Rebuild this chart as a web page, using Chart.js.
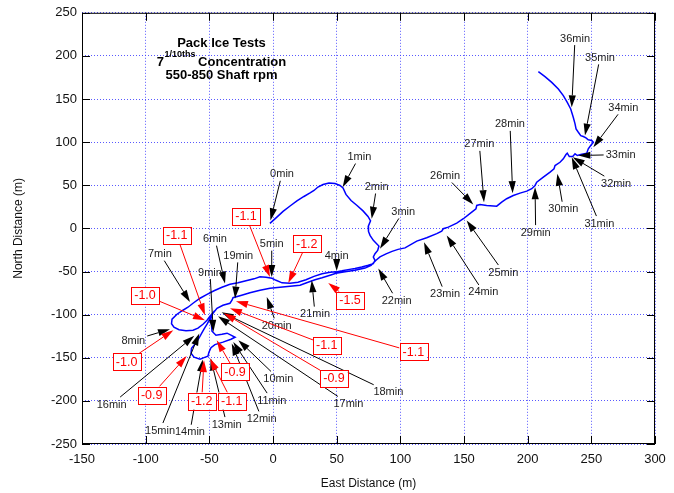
<!DOCTYPE html>
<html><head><meta charset="utf-8">
<style>html,body{margin:0;padding:0;background:#fff;}#wrap{width:674px;height:493px;}</style>
<script src="https://cdn.jsdelivr.net/npm/chart.js@4.4.0/dist/chart.umd.min.js"></script>
</head><body><div id="wrap"><canvas id="c" width="674" height="493"></canvas></div>
<script>
// ---- data (metres) ----
const trackEast = [-2.4,2.4,7.9,13.4,18.8,24.3,29.1,32.2,35.3,39.3,44.0,48.7,52.6,55.0,
57.3,61.3,66.0,70.7,74.6,76.6,74.8,75.0,76.2,78.8,81.4,83.2,82.2,80.1,78.8,80.1,78.8,74.8,69.7,64.4,
58.9,54.2,49.5,44.8,38.5,32.2,25.9,19.6,13.4,7.1,2.4,-0.8,-5.5,-10.2,-14.9,-21.2,-27.5,-33.8,-40.1,-46.3,-51.8,-57.3,-62.8,-66.8,-70.7,
-75.4,-79.3,-79.7,-77.8,-73.8,-68.3,-62.8,-58.9,-55.0,-51.8,-49.5,-47.5,
-48.7,-48.3,-47.9,
-44.8,-40.1,-36.1,-33.0,-29.8,-33.0,-39.3,-45.6,-48.7,-50.3,-51.1,-54.2,-57.3,-62.0,-64.4,-64.0,-62.0,-59.7,-57.7,-56.2,-54.2,-51.8,-49.5,-47.1,-44.0,-39.3,-33.8,-32.2,-31.4,
-24.6,-18.1,-10.2,-2.4,5.5,13.4,21.2,27.5,33.0,38.5,44.8,49.5,56.6,64.4,72.3,77.0,80.9,84.0,88.8,93.5,98.2,103.7,
112.9,120.7,128.6,132.5,133.7,137.7,144.3,149.5,156.1,159.4,160.0,162.6,167.8,175.7,179.6,183.5,188.7,194.0,199.3,203.2,205.8,207.1,212.3,217.6,220.7,221.5,225.4,228.0,230.1,231.1,232.7,235.4,237.2,239.0,241.7,246.4,247.6,249.5,251.6,250.3,247.6,245.8,243.7,241.7,239.8,238.0,237.2,235.8,233.8,231.1,228.0,224.1,218.9,213.6,208.4];
const trackNorth = [5.8,12.2,19.7,26.0,31.8,37.0,41.1,44.0,48.0,50.9,52.7,52.1,49.8,46.9,
39.4,32.4,26.6,20.3,13.9,8.7,2.3,-3.5,-8.1,-13.9,-17.7,-20.5,-25.5,-29.3,-33.2,-37.0,-40.9,-42.8,-44.8,-46.6,
-47.8,-49.2,-50.4,-50.9,-52.7,-55.6,-59.6,-62.5,-63.7,-63.1,-60.2,-57.9,-56.7,-56.1,-58.5,-60.8,-63.1,-64.8,-68.3,-72.3,-76.4,-81.0,-86.8,-91.4,-94.9,
-99.5,-105.3,-110.5,-114.6,-117.5,-118.6,-118.1,-115.7,-111.1,-106.5,-101.9,-98.4,
-104.2,-112.3,-119.2,
-123.8,-122.7,-121.5,-123.8,-126.2,-128.5,-131.9,-134.8,-138.3,-143.5,-148.1,-149.9,-151.6,-149.3,-144.7,-138.9,-135.4,-130.8,-126.2,-122.1,-116.9,-111.1,-104.8,-98.4,-92.6,-89.1,-86.8,-83.3,-80.4,
-77.6,-74.7,-71.8,-69.4,-68.3,-67.1,-66.0,-62.5,-59.6,-57.3,-54.4,-52.1,-50.4,-48.6,-46.0,-42.8,-37.0,-33.0,-29.5,-26.6,-24.3,-22.6,
-14.7,-10.8,-6.1,-3.1,-0.4,1.5,6.1,11.2,18.9,22.8,26.6,27.8,26.6,25.8,30.4,34.4,38.2,40.9,43.2,46.0,49.8,53.6,59.4,65.2,69.1,72.9,76.7,80.7,85.7,87.2,83.3,83.3,86.5,84.5,85.7,87.2,92.3,96.1,99.9,101.9,102.7,105.0,106.5,107.6,111.5,115.4,121.2,128.8,138.5,146.2,153.9,161.7,169.3,175.9,181.7];

const xTickValues = [-150,-100,-50,0,50,100,150,200,250,300];
const yTickValues = [-250,-200,-150,-100,-50,0,50,100,150,200,250];

// time marks: label text, label position, arrow tip (east, north)
const minuteText = ['0min','1min','2min','3min','4min','5min','6min','7min','8min','9min','10min','11min','12min','13min','14min','15min','16min','17min','18min','19min','20min','21min','22min','23min','24min','25min','26min','27min','28min','29min','30min','31min','32min','33min','34min','35min','36min'];
const minuteLabelEast  = [7.1,67.8,81.4,102.3,50.0,-1.0,-45.6,-88.8,-109.7,-49.5,4.2,-1.0,-8.9,-36.4,-65.2,-88.7,-126.7,59.2,90.6,-27.3,2.9,33.0,97.1,135.1,165.2,180.9,135.1,162.0,186.1,206.3,228.0,256.3,269.4,273.0,275.1,256.8,237.2];
const minuteLabelNorth = [63.3,83.3,48.6,19.7,-31.3,-17.7,-11.9,-29.3,-129.6,-50.6,-174.0,-199.1,-220.3,-226.9,-235.8,-233.8,-203.7,-203.0,-189.4,-31.3,-112.3,-98.8,-83.3,-75.6,-73.7,-50.6,61.3,98.0,121.2,-4.3,22.8,6.2,52.5,85.6,140.4,198.3,220.7];
const minuteTipEast  = [-2.0,54.7,77.5,84.0,50.0,-1.0,-37.7,-65.2,-80.9,-46.9,-27.2,-31.2,-32.4,-48.9,-55.2,-57.9,-61.8,-43.2,-40.3,-29.8,-4.9,30.4,82.7,118.6,136.4,152.1,157.3,165.7,188.2,205.8,223.3,234.6,235.4,239.8,251.6,245.0,234.6];
const minuteTipNorth = [9.3,47.8,11.2,-23.5,-49.4,-56.4,-64.0,-85.3,-116.9,-120.0,-129.6,-131.6,-133.4,-150.8,-152.0,-121.9,-124.6,-101.9,-97.2,-81.4,-79.5,-60.2,-46.6,-16.2,-8.1,9.3,27.8,30.4,40.9,47.8,63.3,82.5,82.5,84.5,94.1,107.6,140.4];

// boxed red values: text, box position, arrow tip (east, north)
const headText = ['-1.1','-1.2','-1.5','-1.1','-1.0','-1.0','-0.9','-1.2','-1.1','-0.9','-1.1','-0.9','-1.1'];
const headBoxEast  = [-21.2,26.5,60.5,-75.6,-100.5,-115.0,-95.3,-56.0,-32.4,-29.8,42.2,47.9,110.2];
const headBoxNorth = [13.9,-17.7,-83.3,-8.1,-77.5,-154.7,-193.3,-200.2,-200.2,-166.3,-135.4,-174.0,-143.2];
const headTipEast  = [-2.4,12.0,43.4,-53.4,-53.4,-78.3,-67.8,-54.2,-49.5,-44.2,-33.8,-38.5,-29.1];
const headTipNorth = [-56.4,-63.3,-63.3,-100.7,-106.5,-118.1,-148.1,-152.8,-150.8,-129.6,-92.6,-98.4,-84.5];

const titleLine1 = 'Pack Ice Tests';
const titleLine2a = '7', titleLine2sup = '1/10ths', titleLine2b = 'Concentration';
const titleLine3 = '550-850 Shaft rpm';

const FONT = '"Liberation Sans", Arial, Helvetica, sans-serif';

function arrow(ctx, x0, y0, x1, y1, color) {
  const dx = x1 - x0, dy = y1 - y0, L = Math.hypot(dx, dy);
  if (L < 1) return;
  const ux = dx / L, uy = dy / L, hl = 12, hw = 3.6;
  const bx = x1 - ux * hl, by = y1 - uy * hl;
  ctx.strokeStyle = color; ctx.lineWidth = 1;
  ctx.beginPath(); ctx.moveTo(x0, y0); ctx.lineTo(bx, by); ctx.stroke();
  ctx.fillStyle = color;
  ctx.beginPath(); ctx.moveTo(x1, y1);
  ctx.lineTo(bx - uy * hw, by + ux * hw);
  ctx.lineTo(bx + uy * hw, by - ux * hw);
  ctx.closePath(); ctx.fill();
}
function edgePoint(cx, cy, hw, hh, tx, ty) {
  const dx = tx - cx, dy = ty - cy;
  const t = Math.min(dx ? hw / Math.abs(dx) : Infinity, dy ? hh / Math.abs(dy) : Infinity);
  return [cx + dx * t, cy + dy * t];
}

const annotPlugin = {
  id: 'annot',
  afterDatasetsDraw(chart) {
    const {ctx, chartArea: a, scales: {x, y}} = chart;
    ctx.save();
    // frame and inward ticks
    ctx.strokeStyle = '#000'; ctx.lineWidth = 1;
    ctx.strokeRect(a.left + 0.5, a.top + 0.5, a.right - a.left - 1, a.bottom - a.top - 1);
    ctx.beginPath();
    xTickValues.forEach(v => {
      const px = Math.round(x.getPixelForValue(v)) + 0.5;
      ctx.moveTo(px, a.top); ctx.lineTo(px, a.top + 8);
      ctx.moveTo(px, a.bottom); ctx.lineTo(px, a.bottom - 8);
    });
    yTickValues.forEach(v => {
      const py = Math.round(y.getPixelForValue(v)) + 0.5;
      ctx.moveTo(a.left, py); ctx.lineTo(a.left + 8, py);
      ctx.moveTo(a.right, py); ctx.lineTo(a.right - 8, py);
    });
    ctx.stroke();

    // minute labels with black arrows
    ctx.font = '11px ' + FONT;
    ctx.textAlign = 'center'; ctx.textBaseline = 'middle';
    minuteText.forEach((t, i) => {
      const cx = x.getPixelForValue(minuteLabelEast[i]), cy = y.getPixelForValue(minuteLabelNorth[i]);
      const tx = x.getPixelForValue(minuteTipEast[i]), ty = y.getPixelForValue(minuteTipNorth[i]);
      const w = ctx.measureText(t).width;
      const [sx, sy] = edgePoint(cx, cy, w / 2 + 2, 7, tx, ty);
      arrow(ctx, sx, sy, tx, ty, '#000');
      ctx.fillStyle = '#222';
      ctx.fillText(t, cx, cy + 0.5);
    });

    // red boxed values
    ctx.font = '12.5px ' + FONT;
    headText.forEach((t, i) => {
      const cx = x.getPixelForValue(headBoxEast[i]), cy = y.getPixelForValue(headBoxNorth[i]);
      const tx = x.getPixelForValue(headTipEast[i]), ty = y.getPixelForValue(headTipNorth[i]);
      const w = ctx.measureText(t).width + 6, h = 17;
      const [sx, sy] = edgePoint(cx, cy, w / 2, h / 2, tx, ty);
      arrow(ctx, sx, sy, tx, ty, '#ff0000');
      ctx.fillStyle = '#fff';
      ctx.fillRect(cx - w / 2, cy - h / 2, w, h);
      ctx.strokeStyle = '#ff0000'; ctx.lineWidth = 1;
      ctx.strokeRect(Math.round(cx - w / 2) + 0.5, Math.round(cy - h / 2) + 0.5, Math.round(w), h);
      ctx.fillStyle = '#ff0000';
      ctx.fillText(t, cx, cy + 0.5);
    });

    // title block
    ctx.fillStyle = '#000';
    ctx.textBaseline = 'alphabetic';
    const tcx = 221.5;
    ctx.font = 'bold 13px ' + FONT;
    ctx.textAlign = 'center';
    ctx.fillText(titleLine1, tcx, 46.5);
    ctx.fillText(titleLine3, tcx, 79);
    ctx.textAlign = 'left';
    const w7 = ctx.measureText(titleLine2a).width;
    const wc = ctx.measureText(titleLine2b).width;
    ctx.font = 'bold 9px ' + FONT;
    const ws = ctx.measureText(titleLine2sup).width;
    const total = w7 + ws + 3 + wc;
    let sx = tcx - total / 2;
    ctx.font = 'bold 13px ' + FONT;
    ctx.fillText(titleLine2a, sx, 66);
    ctx.font = 'bold 9px ' + FONT;
    ctx.fillText(titleLine2sup, sx + w7 + 0.5, 57);
    ctx.font = 'bold 13px ' + FONT;
    ctx.fillText(titleLine2b, sx + w7 + ws + 3, 66);
    ctx.restore();
  }
};

const gridColor = 'rgba(60,60,255,0.85)';
new Chart(document.getElementById('c'), {
  type: 'scatter',
  data: {
    datasets: [{
      data: trackEast.map((e, i) => ({x: e, y: trackNorth[i]})),
      showLine: true, borderColor: '#0000ff', borderWidth: 1.5,
      pointRadius: 0, pointHoverRadius: 0, tension: 0, fill: false
    }]
  },
  options: {
    responsive: false, animation: false, devicePixelRatio: 1,
    layout: {padding: {top: 12, right: 19, left: 0, bottom: 0}},
    plugins: {legend: {display: false}, tooltip: {enabled: false}},
    scales: {
      x: {
        type: 'linear', min: -150, max: 300,
        afterBuildTicks: s => { s.ticks = xTickValues.map(v => ({value: v})); },
        afterFit: s => { s.height = 49; },
        ticks: {autoSkip: false, maxRotation: 0, padding: 8, color: '#111', font: {family: FONT, size: 13}},
        grid: {color: gridColor, lineWidth: 1, drawTicks: false},
        border: {display: false, dash: [1, 2]},
        title: {display: true, text: 'East Distance (m)', color: '#111', font: {family: FONT, size: 12}, padding: {top: 0, bottom: 2}}
      },
      y: {
        type: 'linear', min: -250, max: 250,
        afterBuildTicks: s => { s.ticks = yTickValues.map(v => ({value: v})); },
        afterFit: s => { s.width = 82; },
        ticks: {autoSkip: false, padding: 5, color: '#111', font: {family: FONT, size: 13}},
        grid: {color: gridColor, lineWidth: 1, drawTicks: false},
        border: {display: false, dash: [1, 2]},
        title: {display: true, text: 'North Distance (m)', color: '#111', font: {family: FONT, size: 12}, padding: {top: 11, bottom: 0}}
      }
    }
  },
  plugins: [annotPlugin]
});
</script></body></html>
